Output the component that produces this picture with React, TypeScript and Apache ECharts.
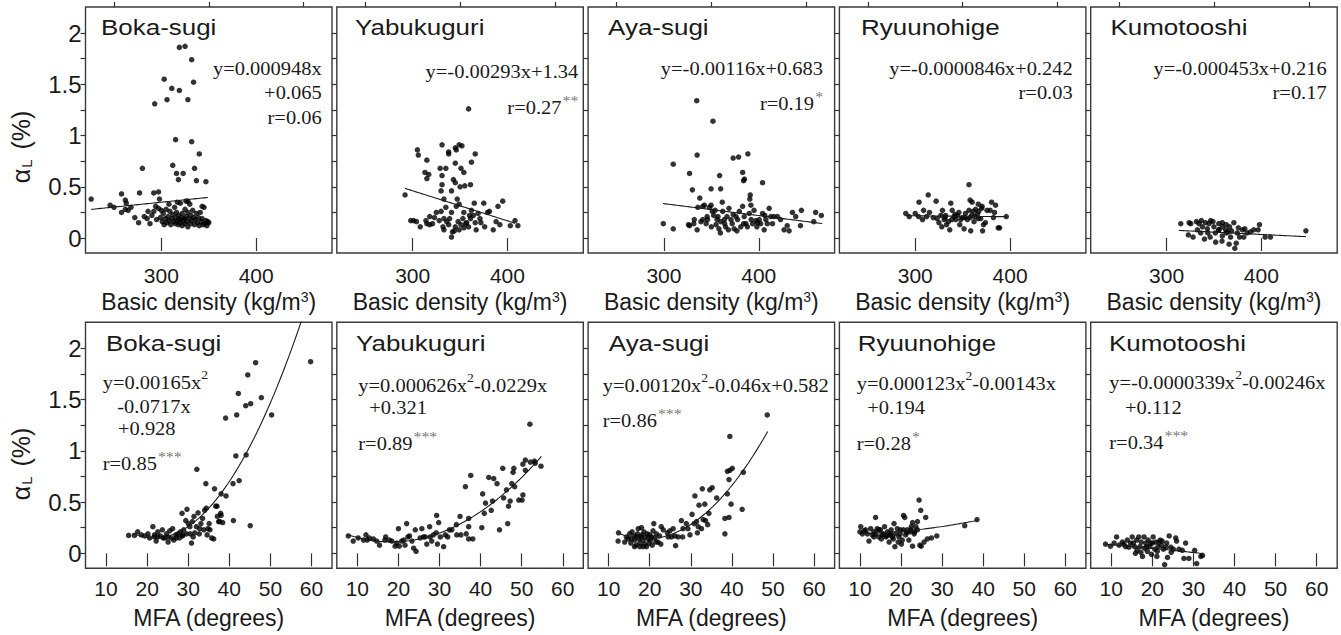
import React, { useEffect, useRef } from "react";
import * as echarts from "echarts";

type P = [number, number];

const panelNames = ["Boka-sugi", "Yabukuguri", "Aya-sugi", "Ryuunohige", "Kumotooshi"];
const densTicksMajor = [300, 400];
const densTicksMinor = [250, 350, 450];
const mfaTicks = [10, 20, 30, 40, 50, 60];
const yTicks = [0, 0.25, 0.5, 0.75, 1, 1.25, 1.5, 1.75, 2];
const yLabels = [0, 0.5, 1, 1.5, 2];

// ---------- Basic density vs alpha_L ----------
const densBoka: P[] = [
  [226,0.38],[325,1.87],[319,1.86],[332,1.74],[334,1.52],[303,1.55],[311,1.46],[319,1.44],[293,1.31],[306,1.35],[328,1.35],
  [315,0.96],[332,0.94],[340,0.82],[280,0.68],[312,0.71],[335,0.68],[316,0.63],[323,0.63],[318,0.57],[337,0.56],[347,0.55],
  [258,0.43],[277,0.44],[292,0.44],[297,0.45],[246,0.32],[250,0.30],[262,0.37],[263,0.34],[298,0.38],[343,0.31],[328,0.36],
  [258,0.25],[265,0.27],[268,0.30],[262,0.28],[272,0.20],[276,0.15],[282,0.21],[285,0.19],[288,0.14],[290,0.22],[292,0.26],
  [295,0.18],[297,0.29],[299,0.20],[301,0.16],[302,0.24],[303,0.13],[304,0.19],[305,0.28],[306,0.15],[307,0.21],[308,0.17],
  [309,0.26],[310,0.13],[311,0.19],[312,0.23],[313,0.16],[314,0.30],[315,0.14],[315,0.20],[316,0.25],[317,0.17],[318,0.13],
  [318,0.22],[319,0.18],[320,0.15],[320,0.34],[321,0.20],[322,0.12],[322,0.24],[323,0.17],[324,0.19],[325,0.14],[325,0.28],
  [326,0.21],[327,0.16],[328,0.11],[328,0.25],[329,0.19],[330,0.33],[331,0.14],[331,0.22],[332,0.17],[333,0.27],[334,0.20],
  [335,0.13],[336,0.18],[337,0.24],[338,0.15],[339,0.20],[340,0.12],[341,0.25],[342,0.16],[343,0.19],[344,0.13],[345,0.30],
  [346,0.14],[347,0.17],[348,0.12],[349,0.16],[350,0.15],[286,0.26],[294,0.31],[300,0.27],[308,0.33],[317,0.35],[326,0.36],
];
const densYabu: P[] = [
  [292,0.42],[359,1.26],[305,0.86],[306,0.81],[315,0.76],[331,0.91],[338,0.84],[338,0.82],[346,0.86],[349,0.91],[352,0.90],
  [345,0.88],[366,0.82],[362,0.74],[345,0.73],[351,0.68],[354,0.64],[329,0.68],[335,0.68],[313,0.64],[317,0.62],[315,0.58],
  [331,0.61],[343,0.57],[345,0.54],[350,0.50],[355,0.51],[361,0.52],[331,0.52],[330,0.46],[341,0.46],[333,0.38],[347,0.38],
  [349,0.33],[365,0.34],[375,0.34],[395,0.36],[390,0.31],[335,0.30],[325,0.25],[330,0.26],[318,0.21],[323,0.20],[301,0.17],
  [298,0.17],[304,0.16],[308,0.11],[314,0.17],[315,0.14],[318,0.13],[321,0.14],[328,0.17],[332,0.11],[333,0.08],[336,0.16],
  [338,0.13],[339,0.19],[341,0.01],[342,0.06],[344,0.07],[345,0.11],[348,0.16],[349,0.08],[351,0.13],[353,0.19],[354,0.10],
  [356,0.14],[357,0.15],[359,0.11],[361,0.19],[362,0.27],[364,0.22],[366,0.15],[367,0.08],[369,0.24],[371,0.19],[372,0.15],
  [376,0.11],[379,0.25],[381,0.26],[385,0.08],[388,0.16],[392,0.13],[403,0.12],[408,0.17],[411,0.12],[354,0.25],[360,0.22],
  [346,0.31],[341,0.25],[333,0.19],
];
const densAya: P[] = [
  [334.6,1.34],[351.7,1.14],[335,0.81],[309.8,0.72],[373,0.78],[378.7,0.79],[388.5,0.82],[327,0.63],[358.7,0.61],[383,0.64],
  [384.9,0.575],[384,0.56],[404,0.54],[330,0.47],[349.7,0.48],[359.8,0.48],[337.8,0.39],[361.5,0.35],[391,0.42],[390.6,0.38],
  [299.3,0.14],[309.8,0.09],[325.9,0.13],[327,0.12],[331.5,0.14],[332,0.18],[335.7,0.30],[335,0.08],[339,0.16],[341,0.31],
  [342.7,0.32],[344.5,0.14],[346,0.18],[348,0.30],[349.7,0.32],[351,0.26],[352.5,0.22],[354,0.27],[355,0.13],[357,0.21],
  [358,0.09],[359.5,0.05],[360,0.16],[362,0.26],[363.7,0.18],[365,0.11],[366.5,0.21],[368.6,0.29],[370.7,0.18],[372,0.14],
  [374,0.09],[376,0.21],[377.7,0.18],[379.5,0.26],[381,0.11],[383,0.31],[384.7,0.21],[386.5,0.14],[388,0.11],[390,0.24],
  [391.7,0.32],[393.5,0.14],[395,0.27],[397,0.17],[398.7,0.15],[400.5,0.18],[402,0.14],[404,0.24],[405.7,0.08],[407.5,0.18],
  [409,0.14],[411,0.29],[412.7,0.21],[414.5,0.14],[416,0.21],[419.7,0.21],[423,0.18],[426.7,0.08],[430,0.12],[432,0.07],
  [435.5,0.25],[439,0.21],[444,0.12],[445,0.27],[458,0.16],[460,0.25],[466,0.22],[341,0.18],[345.5,0.21],[350,0.11],
  [356,0.18],[364,0.14],[368,0.08],[373,0.23],[377,0.07],[384,0.14],[392,0.18],[398,0.11],[406.4,0.22],
];
const densRyuu: P[] = [
  [356.7,0.52],[313.7,0.42],[304,0.35],[322,0.36],[337.5,0.34],[357.8,0.37],[360,0.35],[380.5,0.35],[384.7,0.32],[366.5,0.33],
  [370.5,0.31],[308.8,0.27],[290,0.24],[293.7,0.21],[300,0.24],[303.5,0.21],[307.7,0.18],[312,0.21],[315,0.25],[319,0.20],
  [323,0.19],[327,0.22],[328.7,0.27],[330.5,0.18],[332,0.22],[333,0.13],[335,0.16],[336.4,0.08],[339,0.27],[341,0.21],
  [342.7,0.18],[344.5,0.22],[346,0.25],[347,0.13],[349.7,0.20],[351.5,0.09],[353,0.24],[355,0.18],[356.7,0.27],[358.5,0.07],
  [359.5,0.22],[361,0.26],[362,0.16],[363.7,0.28],[365.5,0.23],[367,0.26],[369,0.19],[370,0.29],[371,0.07],[372,0.13],
  [374,0.15],[375.7,0.27],[379,0.27],[382.5,0.20],[383.6,0.25],[387.5,0.10],[389,0.10],[396,0.21],[325,0.15],[328,0.11],
  [331.5,0.20],[338.5,0.18],[342,0.23],[348,0.18],[352.5,0.20],[357.8,0.20],[363,0.21],[366.5,0.19],
];
const densKumo: P[] = [
  [447,0.07],[315,0.14],[323.8,0.15],[331.5,0.16],[336.7,0.17],[341,0.15],[344.8,0.14],[349,0.16],[355,0.14],[358.8,0.15],
  [363,0.13],[366.5,0.11],[371,0.15],[375.7,0.10],[380,0.08],[382.6,0.09],[392,0.08],[396.6,0.08],[398,0.13],[404,0.01],
  [409.6,0.01],[323,0.03],[328,0.01],[332.6,0.08],[336,0.05],[340,-0.01],[343.5,0.05],[346,0.01],[351.5,0.05],[355,0.08],
  [358.5,-0.03],[363,0.05],[365,0.06],[367.5,0.01],[372,-0.10],[373.5,-0.05],[377,0.01],[381.5,0.01],[385,0.05],[388.5,0.06],
  [337.8,0.11],[343,0.09],[350,0.11],[355.3,0.08],[358.8,0.11],[362.3,0.08],[368.6,0.07],[374.6,0.05],[358.8,0.02],
  [351.8,-0.04],[366,-0.06],[325.5,0.14],[334.3,0.14],[346.5,0.17],
];

// ---------- MFA vs alpha_L ----------
const mfaBoka: P[] = [
  [59.8,1.87],[46.4,1.86],[44.5,1.74],[42.2,1.56],[47.8,1.52],[45.2,1.46],[44,1.44],[50.3,1.35],[41.8,1.35],[39.1,1.32],
  [41.6,0.95],[44.1,0.96],[32.1,0.82],[40.9,0.68],[42.4,0.71],[34.3,0.68],[36.4,0.63],[38,0.58],[39.2,0.56],[37,0.46],
  [34.4,0.44],[41,0.32],[45.1,0.27],[28.5,0.39],[29.7,0.43],[37.7,0.31],[38,0.37],
  [15.5,0.175],[16.9,0.175],[17.7,0.21],[18.6,0.18],[19.4,0.17],[20.2,0.19],[20.6,0.15],[21.4,0.26],[21.8,0.18],[22.2,0.12],
  [22.6,0.21],[23.2,0.17],[23.7,0.23],[24.3,0.15],[24.7,0.19],[25.1,0.11],[25.5,0.22],[26.2,0.24],[26.5,0.13],[27,0.18],
  [27.5,0.19],[28.1,0.21],[28.6,0.17],[28.9,0.23],[29.4,0.32],[30,0.29],[30.4,0.26],[30.8,0.10],[31,0.31],[31.4,0.36],
  [31.6,0.20],[32,0.26],[32.4,0.395],[32.7,0.19],[33.1,0.29],[33.5,0.34],[34,0.42],[34.6,0.18],[35.1,0.29],[35.3,0.23],
  [35.7,0.15],[36.2,0.14],[36.7,0.46],[37.1,0.36],[37.4,0.31],[37.9,0.39],[38.4,0.30],[21.8,0.16],[22.6,0.16],[23.9,0.15],
  [25.1,0.16],[25.9,0.15],[27.1,0.15],[27.9,0.15],[28.7,0.18],[29.6,0.19],[30.5,0.19],[31.2,0.16],[32.8,0.24],[33.8,0.23],
  [34.8,0.24],
];
const mfaYabu: P[] = [
  [52,1.26],[7.8,0.17],[9,0.12],[10.2,0.15],[12.1,0.18],[12.4,0.13],[12.9,0.15],[13.9,0.14],[14.7,0.12],[15.4,0.08],
  [16.7,0.13],[16.9,0.16],[18.4,0.12],[19.6,0.10],[20,0.24],[20.2,0.07],[20.8,0.12],[21.6,0.08],[22,0.29],[22.3,0.16],
  [22.7,0.17],[23.7,0.05],[24.1,0.23],[24.3,0.02],[25.3,0.15],[25.7,0.24],[26.1,0.16],[26.9,0.09],[27.6,0.26],[27.7,0.16],
  [28.1,0.12],[29.2,0.20],[29.3,0.37],[29.5,0.09],[29.8,0.30],[30.2,0.16],[31,0.065],[32,0.16],[32.4,0.23],[33,0.23],
  [34.1,0.28],[34.2,0.18],[35,0.36],[35.2,0.18],[36.3,0.65],[36.5,0.19],[37.1,0.34],[37.1,0.26],[37.6,0.76],[38.1,0.14],
  [37.1,0.14],[40.3,0.25],[40.5,0.58],[40.9,0.39],[41.2,0.49],[42,0.74],[42.6,0.42],[42.9,0.51],[43.2,0.73],[44,0.68],
  [44.6,0.23],[45.4,0.83],[45.6,0.54],[46.3,0.62],[46.6,0.29],[46.8,0.46],[47.2,0.51],[47.6,0.68],[47.9,0.79],[48.1,0.83],
  [48.3,0.65],[49.3,0.52],[50.1,0.52],[50.3,0.57],[50.3,0.87],[50.9,0.91],[50.9,0.81],[52.1,0.89],[53.1,0.90],[54.7,0.85],
  [53.3,0.88],[11.5,0.13],[17.8,0.13],[19.2,0.07],[21.3,0.13],[23.3,0.12],[26.5,0.16],[28.5,0.18],[31.4,0.18],
];
const mfaAya: P[] = [
  [48.6,1.35],[39.5,1.14],[38.9,0.80],[39.5,0.81],[40.1,0.83],[42.8,0.79],[39.3,0.72],[32.8,0.63],[35.2,0.64],[34.6,0.62],
  [31,0.56],[36.3,0.54],[38.9,0.58],[32,0.47],[33.4,0.48],[39.8,0.48],[42.5,0.43],[30.3,0.38],[34.4,0.39],[38.3,0.34],
  [39.3,0.35],[38.3,0.19],[33,0.33],[33.6,0.32],[34.1,0.28],[31.6,0.20],[28.9,0.29],[27.7,0.32],[28.1,0.24],[29.3,0.24],
  [29.8,0.18],[30.8,0.29],[31.4,0.31],[31.8,0.26],[32.6,0.24],[26.3,0.075],[25.7,0.24],[24.9,0.22],[26.9,0.16],[28,0.16],
  [22.8,0.26],[23.3,0.23],[24.3,0.20],[24.5,0.16],[25.3,0.16],[26.1,0.17],[21,0.29],[20.8,0.22],[21.6,0.19],[22.4,0.17],
  [22.7,0.09],[22,0.11],[12.3,0.12],[12.4,0.20],[14.3,0.16],[14.7,0.14],[15.1,0.19],[15.4,0.10],[15.7,0.21],[16.2,0.17],
  [16.3,0.13],[16.7,0.08],[17,0.19],[17.2,0.24],[17.4,0.14],[17.6,0.10],[18,0.25],[18.1,0.18],[18.4,0.13],[18.6,0.21],
  [18.8,0.09],[18.9,0.16],[19.2,0.065],[19.4,0.19],[19.6,0.14],[19.8,0.10],[20,0.18],[20.2,0.13],[20.4,0.16],[20.6,0.08],
  [21.2,0.15],[21.5,0.11],[16.3,0.065],[17.6,0.065],[13.9,0.11],[18.4,0.065],[15.5,0.14],[16.7,0.16],[17.8,0.16],
];
const mfaRyuu: P[] = [
  [24.4,0.52],[24.8,0.42],[26,0.35],[20.6,0.37],[20.9,0.35],[13.8,0.35],[38.5,0.33],[35.5,0.27],[24,0.31],[22.8,0.30],
  [10.2,0.26],[10,0.21],[11,0.22],[11.8,0.19],[12.2,0.12],[12.6,0.24],[13,0.18],[13.4,0.21],[13.8,0.19],[14.2,0.24],
  [14.6,0.16],[15,0.23],[15.2,0.14],[15.7,0.19],[16,0.26],[16.3,0.16],[16.7,0.21],[17.1,0.11],[17.3,0.18],[17.6,0.23],
  [17.9,0.16],[18.3,0.29],[18.5,0.065],[18.7,0.19],[19.1,0.24],[19.3,0.11],[19.8,0.19],[19.9,0.23],[20.1,0.09],[20.6,0.23],
  [21.1,0.18],[21.5,0.23],[21.9,0.13],[22.2,0.21],[22.5,0.26],[22.8,0.07],[23.2,0.19],[23.6,0.26],[24,0.23],[24.6,0.08],
  [24.9,0.07],[25.6,0.11],[26.4,0.14],[27.4,0.15],[28.7,0.17],[10.6,0.19],[11.4,0.23],[13.4,0.16],[14.6,0.23],[15.4,0.18],
  [16.5,0.17],[17.5,0.19],[18.1,0.14],[19.5,0.16],[20.3,0.13],[21.4,0.20],[22.4,0.23],[23.3,0.21],
];
const mfaKumo: P[] = [
  [8.6,0.09],[9.8,0.07],[11.3,0.16],[11.9,0.08],[12.7,0.11],[13.5,0.065],[13.9,0.13],[14.7,0.10],[15.1,0.16],[15.7,0.065],
  [16.2,0.13],[16.3,0.03],[16.7,0.16],[17,0.065],[17.3,0.11],[17.6,-0.03],[18,0.16],[18.1,0.05],[18.4,0.10],[18.8,0.02],
  [19,0.13],[19.4,0.065],[19.8,-0.01],[20,0.10],[20.2,0.16],[20.6,0.04],[20.8,0.11],[21.1,-0.03],[21.4,0.065],[21.9,0.13],
  [22.2,0.08],[22.7,0.04],[23,-0.11],[23.3,0.06],[23.7,-0.04],[24.1,0.17],[24.6,0.01],[25.1,0.04],[25.7,0.15],[25.9,0.12],
  [27.3,0.03],[28.1,0.10],[27.7,-0.05],[28.9,-0.05],[30.3,0.03],[30.8,-0.10],[31.8,-0.03],[32.2,-0.02],[10.7,0.10],
  [13.1,0.09],[14.3,0.06],[15.4,0.10],[15.9,0],[17.2,0.01],[18.6,0.065],[19.6,0.10],[21.2,0.02],[21.6,0.11],[22.4,0.12],
  [23.5,0.10],[24.5,0.06],[26.5,0.04],
];

const densData = [densBoka, densYabu, densAya, densRyuu, densKumo];
const mfaData = [mfaBoka, mfaYabu, mfaAya, mfaRyuu, mfaKumo];

// fitted equations printed in the figure: [x^2, x, const]
const densCoef = [[0, 0.000948, 0.065], [0, -0.00293, 1.34], [0, -0.00116, 0.683], [0, -0.0000846, 0.242], [0, -0.000453, 0.216]];
const densRange = [[226, 349], [292, 408], [299, 467], [290, 397], [313, 447]];
const mfaCoef = [[0.00165, -0.0717, 0.928], [0.000626, -0.0229, 0.321], [0.0012, -0.046, 0.582], [0.000123, -0.00143, 0.194], [-0.0000339, -0.00246, 0.112]];
const mfaRange = [[16.5, 58.5], [7.5, 54.8], [12.5, 48.7], [10.3, 38.5], [8.7, 32.3]];

const densEq = [
  ["y=0.000948x", "+0.065", "r=0.06"],
  ["y=-0.00293x+1.34", "r=0.27{s|**}"],
  ["y=-0.00116x+0.683", "r=0.19{s|*}"],
  ["y=-0.0000846x+0.242", "r=0.03"],
  ["y=-0.000453x+0.216", "r=0.17"],
];
const mfaEq = [
  ["y=0.00165x{p|2}", "-0.0717x", "+0.928", "r=0.85{s|***}"],
  ["y=0.000626x{p|2}-0.0229x", "+0.321", "r=0.89{s|***}"],
  ["y=0.00120x{p|2}-0.046x+0.582", "r=0.86{s|***}"],
  ["y=0.000123x{p|2}-0.00143x", "+0.194", "r=0.28{s|*}"],
  ["y=-0.0000339x{p|2}-0.00246x", "+0.112", "r=0.34{s|***}"],
];

// ---------- layout ----------
const PANEL_LEFT = [85.5, 336.8, 588.1, 839.4, 1090.7];
const PANEL_W = 246.5;
const ROW_TOP = [7, 322.3];
const PANEL_H = 246;
const densEqY = [[68, 92, 117], [71, 107], [68, 103], [68, 92], [68, 92]];
const densEqRight = [321.7, 578.3, 823, 1072.7, 1326.7];
const mfaEqY = [[381.7, 406, 428, 463], [385, 406.7, 443], [385, 420], [383, 406.7, 442.7], [381.7, 406.7, 441.7]];
const mfaEqX = [[102.7, 117.3, 118, 102.7], [358.3, 369.3, 358.3], [602.7, 602.7], [856.7, 867.3, 856.7], [1109.3, 1125, 1109.3]];
const titleOffTop = [15.5, 18.3, 20, 21.7, 19.7];
const titleOffBot = [20.5, 19.3, 20.7, 18.3, 18.3];

const SANS = "'Liberation Sans', Arial, Helvetica, sans-serif";
const SERIF = "'Liberation Serif', 'Times New Roman', Times, serif";
const INK = "#1a1a1a";

function fitCurve(coef: number[], range: number[]): P[] {
  const pts: P[] = [];
  const n = 60;
  for (let k = 0; k <= n; k++) {
    const x = range[0] + ((range[1] - range[0]) * k) / n;
    pts.push([x, coef[0] * x * x + coef[1] * x + coef[2]]);
  }
  return pts;
}

function textEl(text: string, x: number, y: number, align: string, size: number, family: string, extra: any = {}) {
  return {
    type: "text",
    x,
    y,
    silent: true,
    ...extra,
    style: {
      text,
      fill: INK,
      fontSize: size,
      fontFamily: family,
      align,
      textAlign: align,
      verticalAlign: "middle",
      textVerticalAlign: "middle",
      rich: {
        s: { fontSize: 15, fill: "#777", fontFamily: family, padding: [0, 0, 13, 1] },
        p: { fontSize: 13, fill: INK, fontFamily: family, padding: [0, 0, 14, 0] },
        sub: { fontSize: 15, fill: INK, fontFamily: SANS, padding: [10, 3, 0, 1] },
      },
    },
  };
}

export default function App() {
  const ref = useRef<HTMLDivElement>(null);
  useEffect(() => {
    const chart = echarts.init(ref.current!, null, { renderer: "svg" });
    const grid: any[] = [];
    const xAxis: any[] = [];
    const yAxis: any[] = [];
    const series: any[] = [];
    const graphics: any[] = [];

    for (let r = 0; r < 2; r++) {
      for (let c = 0; c < 5; c++) {
        const g = grid.length;
        grid.push({
          left: PANEL_LEFT[c], top: ROW_TOP[r], width: PANEL_W, height: PANEL_H,
          show: true, borderColor: "#3a3a3a", borderWidth: 1.4, backgroundColor: "transparent",
          containLabel: false, outerBoundsMode: "none",
        });
        const isTop = r === 0;
        const xi = xAxis.length;
        xAxis.push({
          gridIndex: g, type: "value",
          min: isTop ? 220 : 5, max: isTop ? 480 : 65,
          axisLine: { show: false }, splitLine: { show: false },
          axisTick: { show: true, customValues: isTop ? densTicksMajor : mfaTicks, length: 13, lineStyle: { color: "#333", width: 1.2 } },
          axisLabel: { show: true, customValues: isTop ? densTicksMajor : mfaTicks, fontSize: 21, fontFamily: SANS, color: INK, margin: isTop ? 12 : 10 },
          name: isTop ? "Basic density (kg/m{p|3})" : "MFA (degrees)",
          nameLocation: "middle", nameGap: isTop ? 37 : 38,
          nameTextStyle: {
            fontSize: 23, fontFamily: SANS, color: INK,
            rich: { p: { fontSize: 14, fontFamily: SANS, color: INK, verticalAlign: "top", padding: [0, 0, 8, 0] } },
          },
        });
        if (isTop) {
          xAxis.push({
            gridIndex: g, type: "value", min: 220, max: 480,
            axisLine: { show: false }, splitLine: { show: false },
            axisTick: { show: true, customValues: densTicksMinor, length: 5, lineStyle: { color: "#333", width: 1.2 } },
            axisLabel: { show: false },
          });
        }
        yAxis.push({
          gridIndex: g, type: "value", min: -0.146, max: 2.254,
          axisLine: { show: false }, splitLine: { show: false },
          axisTick: { show: true, customValues: yTicks, length: 5, lineStyle: { color: "#333", width: 1.2 } },
          axisLabel: { show: c === 0, customValues: yLabels, fontSize: 24, fontFamily: SANS, color: INK, margin: 4 },
        });
        const data = isTop ? densData[c] : mfaData[c];
        series.push({
          type: "scatter", xAxisIndex: xi, yAxisIndex: g, data,
          symbol: "circle", symbolSize: 5.5, itemStyle: { color: "#000" }, silent: true,
        });
        series.push({
          type: "line", xAxisIndex: xi, yAxisIndex: g,
          data: isTop ? fitCurve(densCoef[c], densRange[c]) : fitCurve(mfaCoef[c], mfaRange[c]),
          showSymbol: false, symbol: "none", smooth: false, clip: true,
          lineStyle: { color: "#1a1a1a", width: 1.1 }, silent: true,
        });

        // panel title (the reference lettering is wide and low, hence the horizontal scale)
        graphics.push(textEl(panelNames[c], PANEL_LEFT[c] + (isTop ? titleOffTop[c] : titleOffBot[c]), isTop ? 27.5 : 343, "left", 22, SANS, { scaleX: 1.18 }));
        // equations
        if (isTop) {
          densEq[c].forEach((t, k) => graphics.push(textEl(t, densEqRight[c], densEqY[c][k], "right", 19.5, SERIF, { scaleX: 1.05 })));
        } else {
          mfaEq[c].forEach((t, k) => graphics.push(textEl(t, mfaEqX[c][k], mfaEqY[c][k], "left", 19.5, SERIF, { scaleX: 1.05 })));
        }
      }
    }
    // y-axis names
    graphics.push(textEl("α{sub|L} (%)", 21, 147, "center", 25, SANS, { rotation: Math.PI / 2 }));
    graphics.push(textEl("α{sub|L} (%)", 21, 464, "center", 25, SANS, { rotation: Math.PI / 2 }));

    chart.setOption({
      animation: false,
      backgroundColor: "#fff",
      grid, xAxis, yAxis, series,
      graphic: { elements: graphics },
    });
    return () => chart.dispose();
  }, []);
  return <div ref={ref} style={{ position: "absolute", left: 0, top: 0, width: 1341, height: 635 }} />;
}
